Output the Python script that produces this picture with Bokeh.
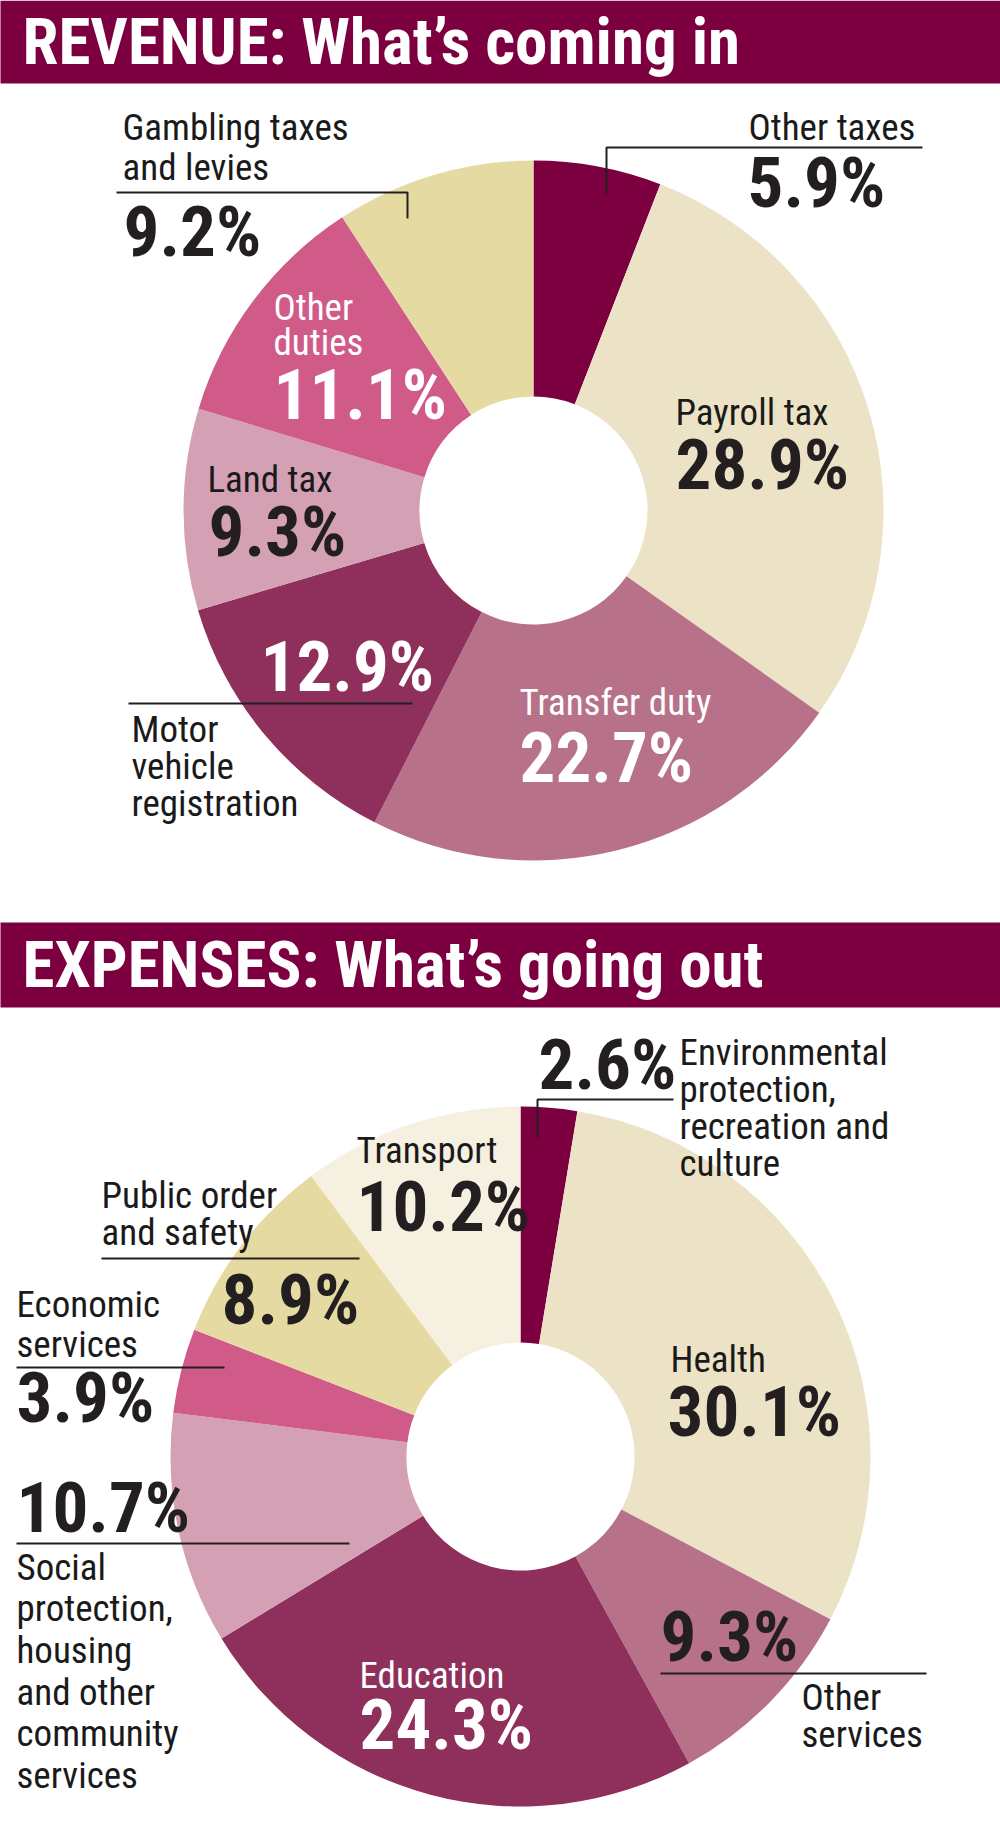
import numpy as np
from bokeh.plotting import figure
from bokeh.models import Range1d
from bokeh.core.properties import value
from bokeh.embed import file_html
from bokeh.resources import INLINE

# ---------------- data ----------------
rev_cats = ["Other taxes", "Payroll tax", "Transfer duty", "Motor vehicle registration",
            "Land tax", "Other duties", "Gambling taxes and levies"]
rev_vals = [5.9, 28.9, 22.7, 12.9, 9.3, 11.1, 9.2]
rev_cols = ["#7c0040", "#ece3c6", "#b77189", "#8f2f5b", "#d3a0b4", "#d05a88", "#e5dba2"]

exp_cats = ["Environmental protection, recreation and culture", "Health", "Other services",
            "Education", "Social protection, housing and other community services",
            "Economic services", "Public order and safety", "Transport"]
exp_vals = [2.6, 30.1, 9.3, 24.3, 10.7, 3.9, 8.9, 10.2]
exp_cols = ["#7c0040", "#ece3c6", "#b77189", "#8f2f5b", "#d3a0b4", "#d05a88", "#e5dba2", "#f6f0e1"]

rev_title = "REVENUE: What\u2019s coming in"
exp_title = "EXPENSES: What\u2019s going out"

# ---------------- layout ----------------
W, H = 1000, 1827
FONT = value("Roboto Condensed, Liberation Sans Narrow, Roboto, sans-serif")
HEADER = "#7c0040"
LBL, PCT, TTL = 37, 71, 65
SHIFT = 0.36  # baseline correction (fraction of font size)


def Y(py):
    return H - py


def YT(py, size):
    return H - (py - SHIFT * size)


p = figure(width=W, height=H, output_backend="svg", toolbar_location=None,
           x_range=Range1d(0, W), y_range=Range1d(0, H),
           min_border=0, x_axis_location=None, y_axis_location=None,
           background_fill_color="white", border_fill_color="white")
p.outline_line_color = None
p.grid.visible = False


def donut(cx, cy, vals, cols, r_in, r_out):
    v = np.array(vals, dtype=float)
    frac = v / v.sum()
    cum_end = np.cumsum(frac)
    cum_start = cum_end - frac
    start = np.pi / 2 - 2 * np.pi * cum_end
    end = np.pi / 2 - 2 * np.pi * cum_start
    p.annular_wedge(x=[cx] * len(v), y=[Y(cy)] * len(v), inner_radius=r_in, outer_radius=r_out,
                    start_angle=list(start), end_angle=list(end), direction="anticlock",
                    fill_color=cols, line_color=None)


def header(top, bottom, title, base):
    p.quad(left=[-20], right=[1020], top=[Y(top)], bottom=[Y(bottom)],
           fill_color=HEADER, line_color=None)
    p.text(x=[22], y=[YT(base, TTL)], text=[title], text_font=FONT, text_font_size=f"{TTL}px",
           text_font_style="bold", text_color="white", text_baseline="alphabetic")


def name(x, bases, lines, color="#1a1a1a"):
    p.text(x=[x] * len(lines), y=[YT(b, LBL) for b in bases], text=lines, text_font=FONT,
           text_font_size=f"{LBL}px", text_color=color, text_baseline="alphabetic")


def pct(x, base, v, color="#231f20"):
    p.text(x=[x], y=[YT(base, PCT)], text=[f"{v}%"], text_font=FONT, text_font_size=f"{PCT}px",
           text_font_style="bold", text_color=color, text_baseline="alphabetic")


def leader(pts):
    p.line(x=[a for a, b in pts], y=[Y(b) for a, b in pts], line_color="#231f20", line_width=2)


# ---------------- revenue ----------------
header(0, 83, rev_title, 65)
donut(533, 510, rev_vals, rev_cols, 114, 350)

# Other taxes
name(748, [140], ["Other taxes"])
leader([(606, 193), (606, 147), (922, 147)])
pct(747, 208, rev_vals[0])
# Payroll tax
name(675, [425], ["Payroll tax"])
pct(675, 490, rev_vals[1])
# Transfer duty
name(519, [715], ["Transfer duty"], "white")
pct(519, 783, rev_vals[2], "white")
# Motor vehicle registration
pct(260, 692, rev_vals[3], "white")
leader([(128, 703), (412, 703)])
name(131, [742, 779, 816], ["Motor", "vehicle", "registration"])
# Land tax
name(207, [492], ["Land tax"])
pct(208, 557, rev_vals[4])
# Other duties
name(273, [320, 355], ["Other", "duties"], "white")
pct(273, 420, rev_vals[5], "white")
# Gambling
name(122, [140, 180], ["Gambling taxes", "and levies"])
leader([(116, 192), (407, 192), (407, 218)])
pct(123, 257, rev_vals[6])

# ---------------- expenses ----------------
header(922, 1007, exp_title, 988)
donut(520, 1456, exp_vals, exp_cols, 114, 350)

# Environmental
pct(538, 1090, exp_vals[0])
leader([(537, 1137), (537, 1099), (673, 1099)])
name(679, [1065, 1102, 1139, 1176], ["Environmental", "protection,", "recreation and", "culture"])
# Health
name(670, [1372], ["Health"])
pct(667, 1437, exp_vals[1])
# Other services
pct(660, 1662, exp_vals[2])
leader([(660, 1673), (926, 1673)])
name(801, [1710, 1747], ["Other", "services"])
# Education
name(359, [1688], ["Education"], "white")
pct(359, 1750, exp_vals[3], "white")
# Social protection
pct(16, 1533, exp_vals[4])
leader([(16, 1543), (349, 1543)])
name(16, [1580, 1621, 1663, 1705, 1746, 1788],
     ["Social", "protection,", "housing", "and other", "community", "services"])
# Economic services
name(16, [1317, 1357], ["Economic", "services"])
leader([(16, 1367), (224, 1367)])
pct(16, 1423, exp_vals[5])
# Public order
name(101, [1208, 1245], ["Public order", "and safety"])
leader([(101, 1258), (359, 1258)])
pct(221, 1325, exp_vals[6])
# Transport
name(356, [1163], ["Transport"])
pct(356, 1232, exp_vals[7])

open("out.html", "w").write(file_html(p, INLINE))
